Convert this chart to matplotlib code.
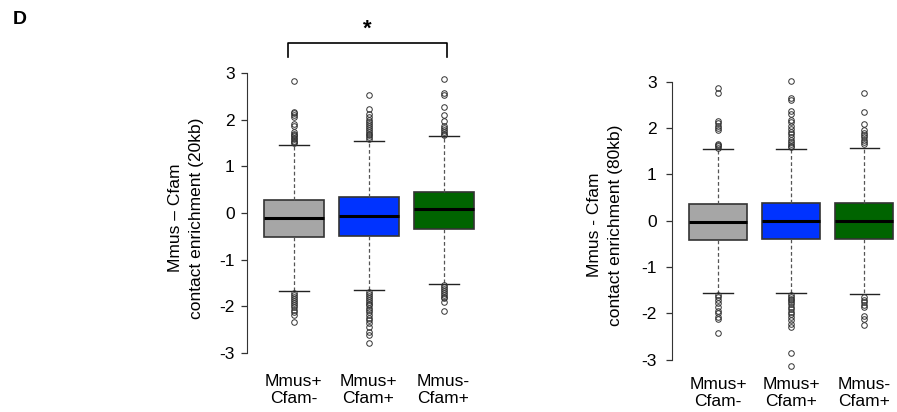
import matplotlib
matplotlib.use("Agg")
import matplotlib.pyplot as plt

plt.rcParams['font.family'] = ['Liberation Sans', 'DejaVu Sans']

categories = ["Mmus+\nCfam-", "Mmus+\nCfam+", "Mmus-\nCfam+"]
colors = ["#A6A6A6", "#0033FF", "#006400"]
yticks = [-3, -2, -1, 0, 1, 2, 3]

# Panel 1: 20kb
p1_q1 = [-0.52, -0.49, -0.34]
p1_med = [-0.10, -0.06, 0.08]
p1_q3 = [0.28, 0.34, 0.46]
p1_whislo = [-1.66, -1.65, -1.51]
p1_whishi = [1.45, 1.55, 1.64]
p1_fliers = [
    [1.49, 1.52, 1.55, 1.58, 1.61, 1.64, 1.67, 1.70, 1.74, 1.87, 1.90, 2.06, 2.10, 2.14, 2.17, 2.83,
     -1.72, -1.76, -1.80, -1.84, -1.88, -1.92, -1.97, -2.02, -2.08, -2.13, -2.18, -2.33],
    [1.58, 1.62, 1.66, 1.70, 1.74, 1.78, 1.82, 1.86, 1.90, 1.95, 2.00, 2.05, 2.13, 2.22, 2.53,
     -1.70, -1.74, -1.78, -1.82, -1.86, -1.90, -1.94, -1.98, -2.03, -2.08, -2.13, -2.18, -2.24,
     -2.30, -2.35, -2.45, -2.55, -2.62, -2.79],
    [1.66, 1.70, 1.74, 1.78, 1.82, 1.86, 1.97, 2.10, 2.27, 2.53, 2.56, 2.88,
     -1.55, -1.59, -1.63, -1.67, -1.71, -1.75, -1.79, -1.82, -1.91, -2.09],
]

# Panel 2: 80kb
p2_q1 = [-0.42, -0.40, -0.40]
p2_med = [-0.02, -0.01, 0.00]
p2_q3 = [0.36, 0.39, 0.39]
p2_whislo = [-1.55, -1.56, -1.58]
p2_whishi = [1.54, 1.55, 1.56]
p2_fliers = [
    [1.56, 1.60, 1.63, 1.66, 1.95, 2.00, 2.05, 2.10, 2.15, 2.75, 2.85,
     -1.60, -1.65, -1.70, -1.78, -1.85, -1.95, -2.00, -2.07, -2.12, -2.42],
    [1.58, 1.62, 1.66, 1.70, 1.75, 1.80, 1.86, 1.92, 1.98, 2.05, 2.12, 2.17, 2.30, 2.37, 2.60, 2.65, 3.02,
     -1.60, -1.64, -1.68, -1.72, -1.76, -1.80, -1.85, -1.90, -1.96, -2.02, -2.08, -2.15, -2.22, -2.30,
     -2.85, -3.14],
    [1.65, 1.70, 1.75, 1.80, 1.85, 1.90, 1.95, 2.08, 2.35, 2.75,
     -1.64, -1.70, -1.76, -1.82, -1.85, -2.05, -2.12, -2.25],
]

W, H = 897, 412
fig = plt.figure(figsize=(W / 100, H / 100), dpi=100)


def px_axes(left, right, top, bottom):
    return fig.add_axes([left / W, (H - bottom) / H, (right - left) / W, (bottom - top) / H])


def draw_panel(ax, q1, med, q3, wlo, whi, fliers, xlim, ylim, pad):
    stats = []
    for i in range(len(categories)):
        stats.append(dict(q1=q1[i], med=med[i], q3=q3[i], whislo=wlo[i], whishi=whi[i],
                          fliers=fliers[i], label=categories[i]))
    bp = ax.bxp(stats, positions=[1, 2, 3], widths=0.8, patch_artist=True,
                showfliers=True,
                boxprops=dict(edgecolor="#333333", linewidth=1.2),
                medianprops=dict(color="black", linewidth=2.2),
                whiskerprops=dict(color="#555555", linewidth=0.9, linestyle=(0, (3, 2))),
                capprops=dict(color="#222222", linewidth=1.0),
                flierprops=dict(marker="o", markersize=4, markerfacecolor="none",
                                markeredgecolor="#333333", markeredgewidth=0.7))
    for patch, c in zip(bp["boxes"], colors):
        patch.set_facecolor(c)
    ax.set_xlim(*xlim)
    ax.set_ylim(*ylim)
    ax.set_yticks(yticks)
    ax.set_yticklabels([str(t) for t in yticks])
    for s in ["top", "right", "bottom"]:
        ax.spines[s].set_visible(False)
    ax.spines["left"].set_bounds(-3, 3)
    ax.spines["left"].set_color("#333333")
    ax.tick_params(axis="y", length=4, width=0.9, color="#333333", labelsize=12.5, pad=pad)
    ax.tick_params(axis="x", length=0, labelsize=12.5, pad=7)
    ax.patch.set_alpha(0)
    return bp


ax1 = px_axes(247, 490, 61.7, 364.3)
draw_panel(ax1, p1_q1, p1_med, p1_q3, p1_whislo, p1_whishi, p1_fliers,
           (0.38, 3.62), (-3.24, 3.24), 5)

ax2 = px_axes(672, 897, 70.4, 371.0)
draw_panel(ax2, p2_q1, p2_med, p2_q3, p2_whislo, p2_whishi, p2_fliers,
           (0.37, 3.45), (-3.24, 3.24), 7)
ax2.tick_params(axis="x", pad=4)

# significance bracket
ax1.plot([0.92, 0.92, 3.05, 3.05], [3.35, 3.63, 3.63, 3.35], color="black", lw=1.2, clip_on=False)
ax1.text(1.99, 3.72, "*", ha="center", va="bottom", fontsize=16, fontweight="bold", clip_on=False)

fig.text(186 / W, 1 - 218 / H, "Mmus \u2013 Cfam\ncontact enrichment (20kb)", rotation=90,
         ha="center", va="center", fontsize=12.5, linespacing=1.5, multialignment="center")
fig.text(605 / W, 1 - 225 / H, "Mmus - Cfam\ncontact enrichment (80kb)", rotation=90,
         ha="center", va="center", fontsize=12.5, linespacing=1.55, multialignment="center")

fig.text(13 / W, 1 - 20 / H, "D", fontsize=14, fontweight="bold", ha="left", va="center")

fig.savefig("out.png", dpi=100)
